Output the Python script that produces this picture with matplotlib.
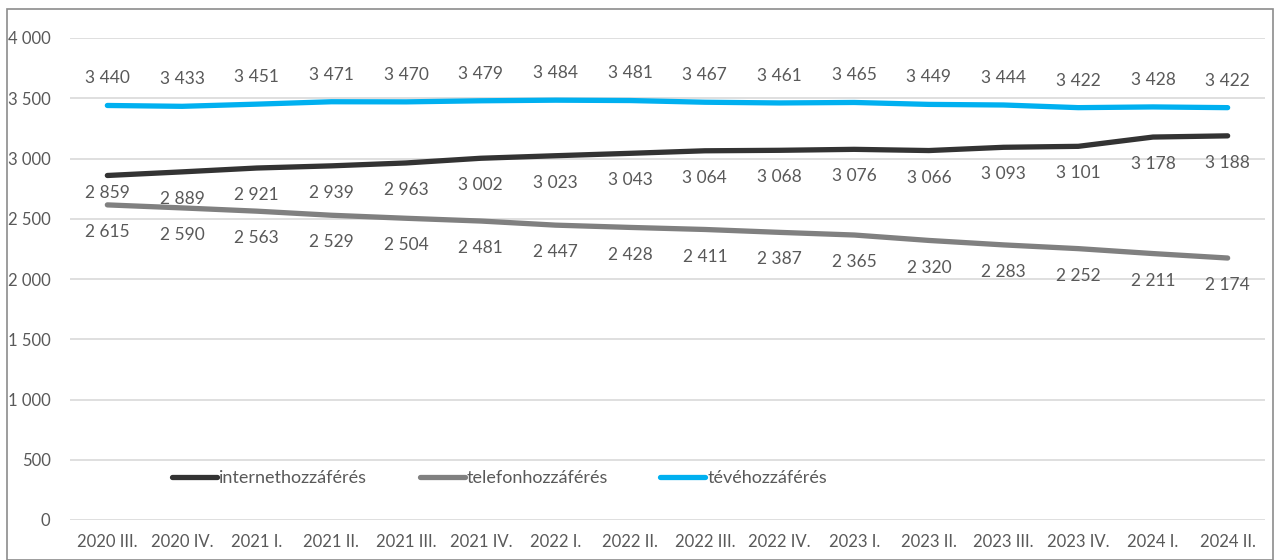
import matplotlib.pyplot as plt
from matplotlib.patches import Rectangle

plt.rcParams['font.family'] = ['Lato', 'DejaVu Sans']

# Data
quarters = ['2020 III.', '2020 IV.', '2021 I.', '2021 II.', '2021 III.', '2021 IV.',
            '2022 I.', '2022 II.', '2022 III.', '2022 IV.', '2023 I.', '2023 II.',
            '2023 III.', '2023 IV.', '2024 I.', '2024 II.']
internet = [2859, 2889, 2921, 2939, 2963, 3002, 3023, 3043, 3064, 3068, 3076, 3066,
            3093, 3101, 3178, 3188]
telefon = [2615, 2590, 2563, 2529, 2504, 2481, 2447, 2428, 2411, 2387, 2365, 2320,
           2283, 2252, 2211, 2174]
teve = [3440, 3433, 3451, 3471, 3470, 3479, 3484, 3481, 3467, 3461, 3465, 3449,
        3444, 3422, 3428, 3422]

TEXT = '#595959'


def fmt(v):
    return f'{v:,}'.replace(',', ' ')


fig = plt.figure(figsize=(12.79, 5.6), dpi=100)
ax = fig.add_axes([70 / 1279, 40 / 560, 1195 / 1279, 482 / 560])

x = range(len(quarters))
series = [
    (internet, 'internethozzáférés', '#333333', -1),
    (telefon, 'telefonhozzáférés', '#808080', -1),
    (teve, 'tévéhozzáférés', '#00B0F0', 1),
]
for vals, name, col, side in series:
    ax.plot(x, vals, color=col, lw=3.8, label=name, solid_capstyle='round',
            solid_joinstyle='round', zorder=3)
    for i, v in enumerate(vals):
        off = 19.5
        # first internet label sits closer so it clears the phone line
        if vals is internet and i == 0:
            off = 12.5
        ax.annotate(fmt(v), (i, v), xytext=(0, side * off), textcoords='offset points',
                    ha='center', va='center', fontsize=12.5, color=TEXT)

ax.set_xlim(-0.5, len(quarters) - 0.5)
ax.set_ylim(0, 4000)
ax.set_yticks(range(0, 4001, 500))
ax.set_yticklabels([fmt(v) for v in range(0, 4001, 500)])
ax.set_xticks(list(x))
ax.set_xticklabels(quarters)
ax.tick_params(length=0, labelsize=12, colors=TEXT)
ax.tick_params(axis='y', pad=14)
ax.tick_params(axis='x', pad=10)
ax.grid(axis='y', color='#D9D9D9', lw=1.2)
ax.set_axisbelow(True)
for s in ax.spines.values():
    s.set_visible(False)

leg = ax.legend(loc='center left', bbox_to_anchor=(0.072, 0.087), ncol=3, frameon=False,
                fontsize=13, handlelength=2.5, handletextpad=0.1, columnspacing=2.9)
for t in leg.get_texts():
    t.set_color(TEXT)

fig.patches.append(Rectangle((7 / 1279, 0), 1266 / 1279, 551 / 560, transform=fig.transFigure,
                             fill=False, edgecolor='#8c8c8c', lw=1.2))

fig.savefig('out.png', dpi=100)
